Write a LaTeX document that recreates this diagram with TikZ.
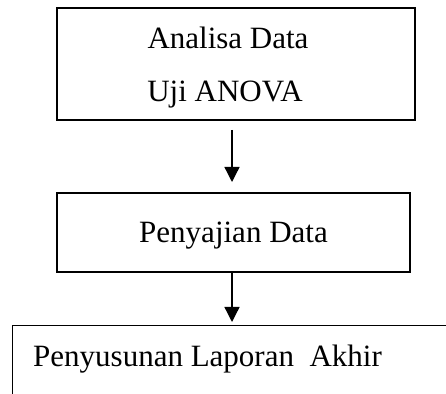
\documentclass[tikz,border=0pt]{standalone}
\usepackage{fontspec}
\setmainfont{Liberation Serif}
\usetikzlibrary{arrows.meta}
\begin{document}
\begin{tikzpicture}[x=1pt,y=1pt,
  box/.style={draw=black, line width=1.3pt, inner sep=0pt, fill=white},
  lbl/.style={inner sep=0pt, font=\fontsize{31}{36}\selectfont},
  arr/.style={line width=1.3pt, -{Triangle[width=15pt,length=15pt]}}]
\useasboundingbox (0,0) rectangle (446,393);
% boxes (image y measured from top: y_tikz = 393 - y_img)
\node[box, minimum width=358pt, minimum height=112pt] (b1) at (236,329) {};
\node[box, minimum width=353pt, minimum height=79pt] (b2) at (233.5,160.5) {};
\node[box, minimum width=460pt, minimum height=90pt, anchor=north west] (b3) at (12,68) {};
% texts
\node[lbl, anchor=base] (t1) at (228,344) {Analisa Data};
\node[lbl, anchor=base] (t2) at (225,291) {Uji ANOVA};
\node[lbl, anchor=base] (t3) at (233.5,150) {Penyajian Data};
\node[lbl, anchor=base west] (t4) at (33,27) {Penyusunan Laporan\ \ Akhir};
% connectors
\coordinate (a1s) at (232,263);
\coordinate (a1e) at (232,211);
\draw[arr] (a1s) -- (a1e);
\coordinate (a2s) at (232,121);
\coordinate (a2e) at (232,71);
\draw[arr] (a2s) -- (a2e);
\end{tikzpicture}
\end{document}
